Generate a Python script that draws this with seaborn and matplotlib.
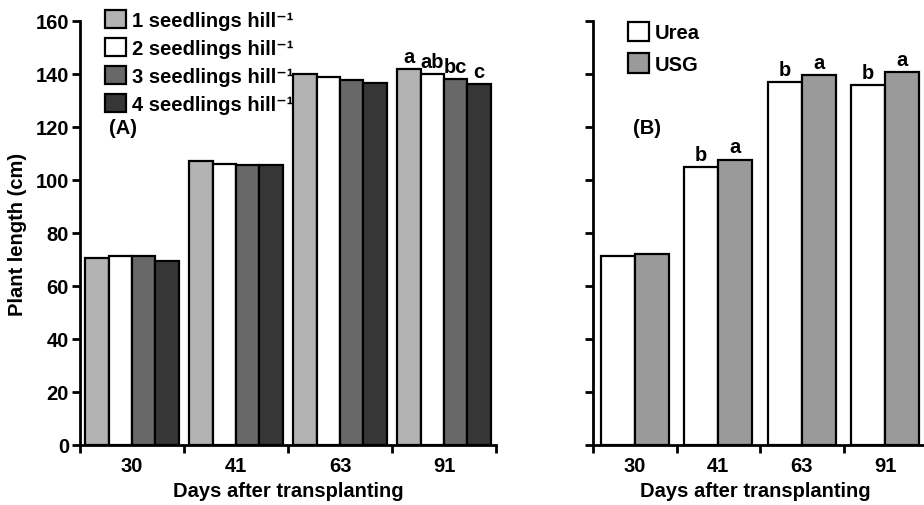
"""
Plant length of rice by seedlings per hill (A) and N source (B).
"""

import matplotlib.pyplot as plt
import pandas as pd
import seaborn as sns
from matplotlib.patches import Patch

DAYS = ["30", "41", "63", "91"]

# panel A: seedlings per hill
SEEDLING_LABELS = ["1 seedlings hill⁻¹", "2 seedlings hill⁻¹",
                   "3 seedlings hill⁻¹", "4 seedlings hill⁻¹"]
SEED_1 = [70.5, 107.0, 140.0, 142.0]
SEED_2 = [71.5, 106.0, 139.0, 140.0]
SEED_3 = [71.3, 105.7, 137.7, 138.0]
SEED_4 = [69.5, 105.7, 136.5, 136.3]
SEED_LETTERS = [["", "", "", "a"], ["", "", "", "ab"],
                ["", "", "", "bc"], ["", "", "", "c"]]

# panel B: nitrogen source
N_LABELS = ["Urea", "USG"]
UREA = [71.3, 104.8, 136.8, 135.8]
USG = [72.0, 107.7, 139.7, 140.7]
N_LETTERS = [["", "b", "b", "b"], ["", "a", "a", "a"]]

SEED_COLORS = ["#b3b3b3", "#ffffff", "#686868", "#363636"]
N_COLORS = ["#ffffff", "#9a9a9a"]

sns.set_theme(style="ticks")
plt.rcParams["font.family"] = ["Liberation Sans", "DejaVu Sans"]
plt.rcParams["font.weight"] = "bold"
plt.rcParams["axes.linewidth"] = 2.0
for key in ["text.color", "axes.labelcolor", "xtick.color", "ytick.color",
            "axes.edgecolor"]:
    plt.rcParams[key] = "black"

FS = 14.5


def long_table(names, series):
    rows = []
    for name, vals in zip(names, series):
        for d, v in zip(DAYS, vals):
            rows.append({"day": d, "group": name, "length": v})
    return pd.DataFrame(rows)


def style_axis(ax, show_ylabels):
    ax.set_xlim(-0.5, 3.5)
    ax.set_ylim(0, 160)
    ax.set_yticks(range(0, 161, 20))
    if not show_ylabels:
        ax.set_yticklabels([])
    ax.set_xticks([-0.5, 0.5, 1.5, 2.5, 3.5])
    ax.set_xticklabels([])
    ax.set_xticks(range(len(DAYS)), minor=True)
    ax.set_xticklabels(DAYS, minor=True, fontsize=FS, fontweight="bold")
    ax.tick_params(axis="x", which="minor", length=0, pad=8)
    ax.tick_params(axis="both", which="major", length=6, width=2,
                   labelsize=FS, direction="out", pad=2)
    for lab in ax.get_yticklabels():
        lab.set_fontweight("bold")
    sns.despine(ax=ax)
    ax.set_xlabel("Days after transplanting", fontsize=FS, fontweight="bold")
    ax.set_ylabel("")


def add_letters(ax, letters):
    for cont, labs in zip(ax.containers, letters):
        for bar, txt in zip(cont, labs):
            if txt:
                ax.text(bar.get_x() + bar.get_width() / 2, bar.get_height() + 1.2,
                        txt, ha="center", va="bottom", fontsize=FS,
                        fontweight="bold")


fig = plt.figure(figsize=(9.24, 5.06), dpi=100)
ax_a = fig.add_axes([80 / 924, 60 / 506, 416 / 924, 424 / 506])
ax_b = fig.add_axes([593 / 924, 60 / 506, 334 / 924, 424 / 506])

df_a = long_table(SEEDLING_LABELS, [SEED_1, SEED_2, SEED_3, SEED_4])
sns.barplot(data=df_a, x="day", y="length", hue="group", palette=SEED_COLORS,
            edgecolor="black", linewidth=1.6, width=0.9, ax=ax_a, legend=False)
style_axis(ax_a, True)
ax_a.xaxis.set_label_coords(0.5, -0.085)
ax_a.set_ylabel("Plant length (cm)", fontsize=FS, fontweight="bold", labelpad=6)
add_letters(ax_a, SEED_LETTERS)
ax_a.text(0.07, 0.748, "(A)", transform=ax_a.transAxes, fontsize=FS,
          fontweight="bold", ha="left", va="center")
handles_a = [Patch(facecolor=c, edgecolor="black", linewidth=1.6) for c in SEED_COLORS]
ax_a.legend(handles_a, SEEDLING_LABELS, loc="upper left",
            bbox_to_anchor=(0.04, 1.045), frameon=False, fontsize=FS,
            handlelength=1.05, handleheight=1.0, handletextpad=0.3,
            labelspacing=0.4, borderaxespad=0)

df_b = long_table(N_LABELS, [UREA, USG])
sns.barplot(data=df_b, x="day", y="length", hue="group", palette=N_COLORS,
            edgecolor="black", linewidth=1.6, width=0.82, ax=ax_b, legend=False)
style_axis(ax_b, False)
ax_b.xaxis.set_label_coords(0.485, -0.085)
add_letters(ax_b, N_LETTERS)
ax_b.text(0.12, 0.748, "(B)", transform=ax_b.transAxes, fontsize=FS,
          fontweight="bold", ha="left", va="center")
handles_b = [Patch(facecolor=c, edgecolor="black", linewidth=1.6) for c in N_COLORS]
ax_b.legend(handles_b, N_LABELS, loc="upper left",
            bbox_to_anchor=(0.08, 1.017), frameon=False, fontsize=FS,
            handlelength=1.05, handleheight=1.1, handletextpad=0.3,
            labelspacing=0.55, borderaxespad=0)

fig.savefig("out.png", dpi=100)
